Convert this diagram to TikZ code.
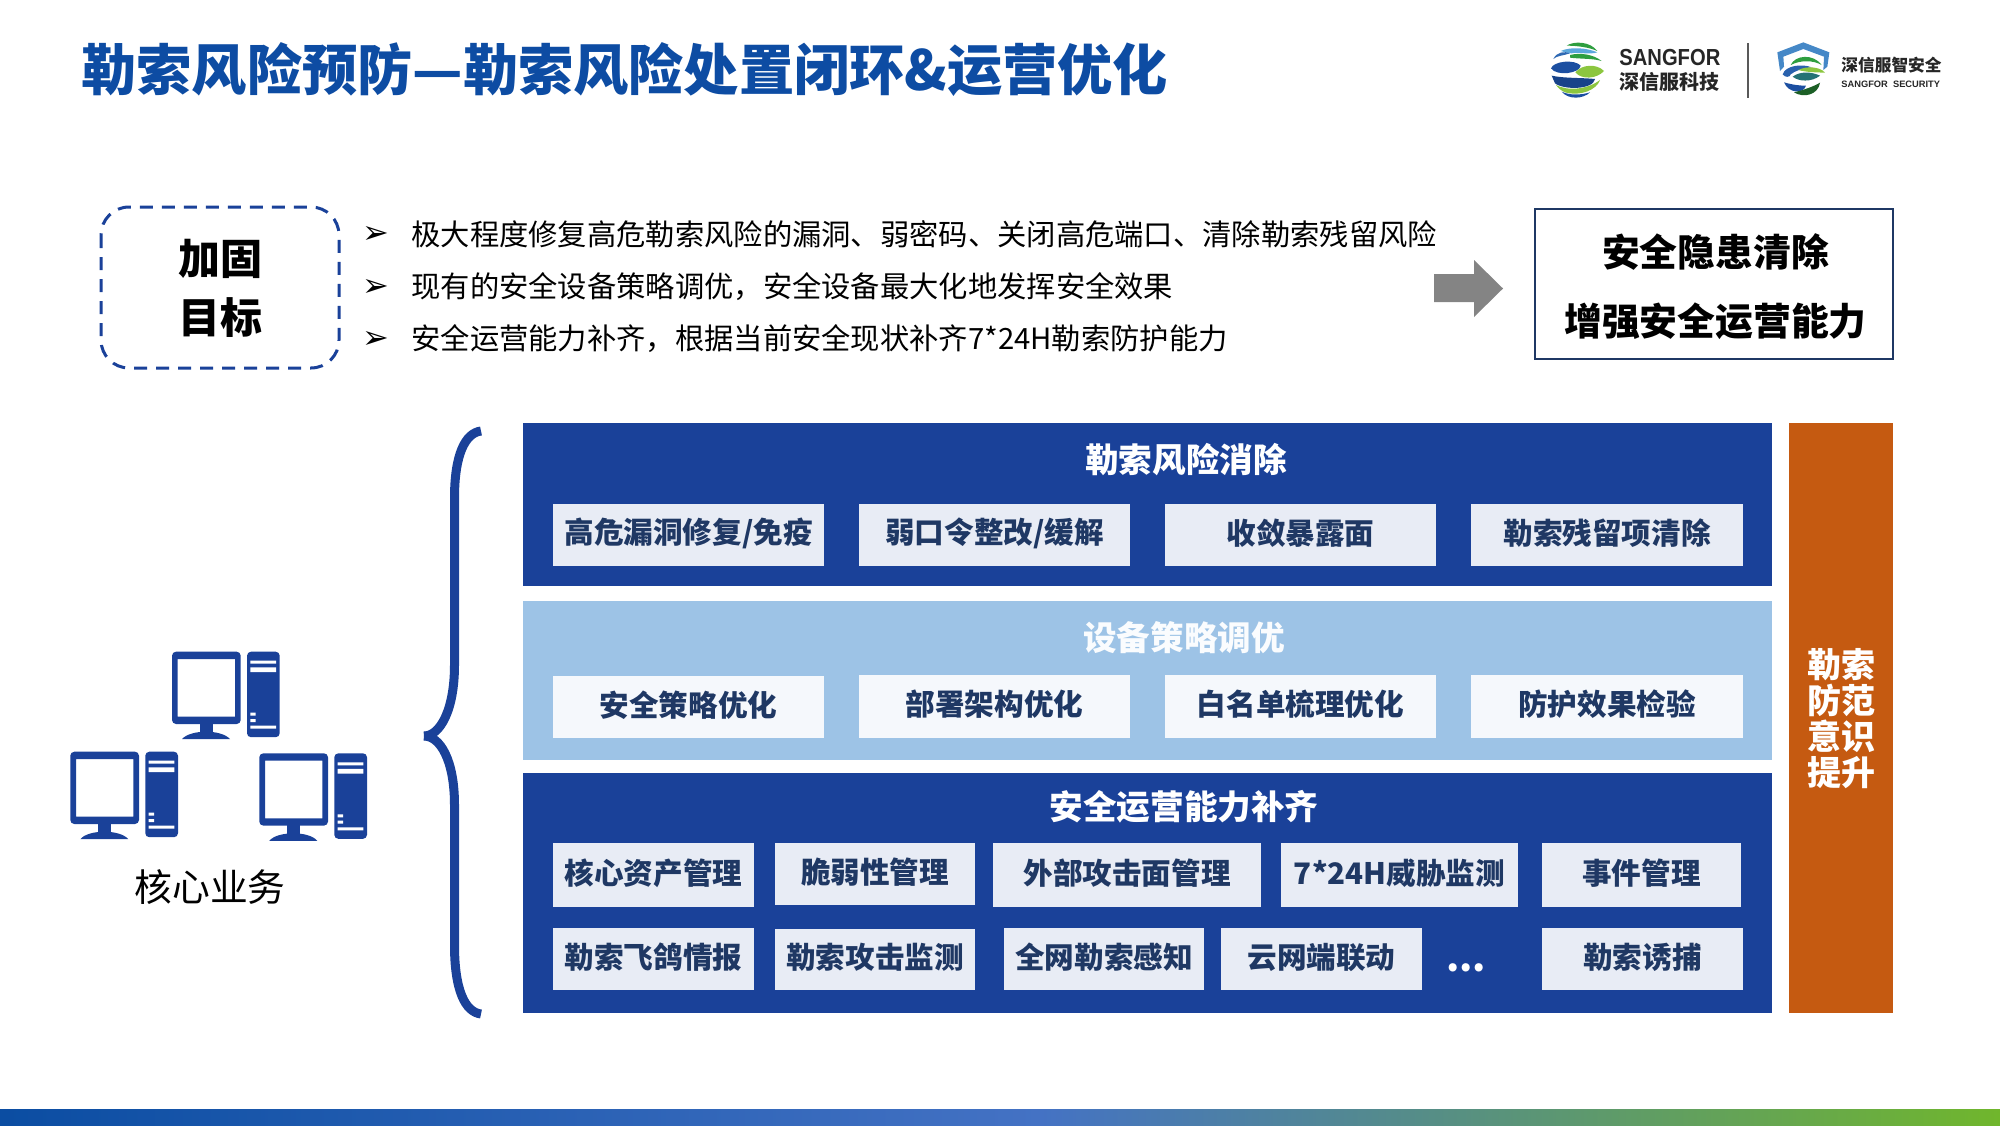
\documentclass[tikz,border=0pt]{standalone}
\usepackage{fontspec}
\setmainfont{Noto Sans CJK SC}
\newfontfamily\symfont{DejaVu Sans}
\newfontfamily\latfont[FakeStretch=0.87]{Liberation Sans}
\newfontfamily\latfontb{Liberation Sans}
\definecolor{navy}{HTML}{1A4199}
\definecolor{sky}{HTML}{9DC3E6}
\definecolor{orangebar}{HTML}{C55A11}
\definecolor{chipa}{HTML}{E8ECF5}
\definecolor{chipb}{HTML}{F5F8FC}
\definecolor{chiptx}{HTML}{1F3864}
\definecolor{titleblue}{HTML}{0D4CA3}
\definecolor{bandl}{HTML}{0B4DA2}
\definecolor{bandm}{HTML}{4472C4}
\definecolor{bandr}{HTML}{70B62C}
\definecolor{arrowgray}{HTML}{848484}
\definecolor{gA}{HTML}{2E9E3F}
\definecolor{gB}{HTML}{8CC63F}
\definecolor{bA}{HTML}{1C4FA1}
\definecolor{bB}{HTML}{5BA7DC}
\tikzset{
 chiptext/.style={inner sep=0pt,text=chiptx,font=\fontsize{14.8}{17}\bfseries\selectfont,yshift=1pt},
 paneltitle/.style={inner sep=0pt,font=\fontsize{16.8}{20}\bfseries\selectfont},
 goaltext/.style={inner sep=0pt,anchor=west,text=black,font=\fontsize{14.65}{18}\selectfont},
 bullet/.style={inner sep=0pt,text=black,font=\symfont\fontsize{16}{18}\selectfont},
 resulttext/.style={inner sep=0pt,text=black,font=\fontsize{18.9}{22}\bfseries\selectfont},
 pc/.pic={
  \fill[navy,rounded corners=2pt,even odd rule] (0,0) rectangle (68.7,72.3) [sharp corners] (5.7,7.3) rectangle (63,65);
  \fill[navy] (27.7,72) rectangle (41,81);
  \fill[navy] (10,87.5) .. controls (18,77.5) and (50,77.5) .. (58,87.5) -- cycle;
  \fill[navy,rounded corners=2pt] (75,0) rectangle (107.7,85.5);
  \fill[white] (78.3,9) rectangle (104,12) (78.3,15.6) rectangle (104,20.3)
   (78.3,61) rectangle (83.7,64) (78.3,67.3) rectangle (83.7,70.3) (78.3,74) rectangle (104,77);
 }
}
\newcommand{\chipbox}[7]{\fill[#7] (#2,#3) rectangle (#4,#5); \node[chiptext] (#1) at ({(#2+#4)/2},{(#3+#5)/2}) {#6};}
\begin{document}
\begin{tikzpicture}[x=0.5pt,y=-0.5pt]
\useasboundingbox (0,0) rectangle (2000,1125);
% title
\node[inner sep=0pt,anchor=west,text=titleblue,font=\fontsize{27.6}{32}\bfseries\selectfont] (title) at (81,70) {勒索风险预防—勒索风险处置闭环\&运营优化};
% globe logo
\begin{scope}[shift={(1540,35)},x=0.16667pt,y=-0.16667pt]
 \fill[gA] (80,32) .. controls (100,18) and (150,18) .. (172,48) .. controls (150,38) and (115,32) .. (80,32) -- cycle;
 \fill[bB] (62,48) .. controls (90,35) and (140,38) .. (172,52) .. controls (150,60) and (110,50) .. (95,55) .. controls (85,55) and (70,50) .. (62,48) -- cycle;
 \fill[gA] (90,60) .. controls (120,52) and (160,58) .. (185,78) .. controls (160,70) and (120,72) .. (90,68) -- cycle;
 \fill[bA!70!bB] (40,72) .. controls (50,50) and (75,48) .. (90,55) .. controls (70,62) and (50,62) .. (40,72) -- cycle;
 \fill[bA] (33,100) .. controls (40,78) and (105,72) .. (122,92) .. controls (120,115) and (50,125) .. (33,100) -- cycle;
 \fill[gB] (192,108) .. controls (170,85) and (125,88) .. (106,112) .. controls (125,135) and (170,132) .. (192,108) -- cycle;
 \fill[bA!85!black] (35,122) .. controls (70,130) and (130,128) .. (165,132) .. controls (160,165) and (70,165) .. (45,145) -- cycle;
 \fill[gB] (48,150) .. controls (80,168) and (140,165) .. (180,135) .. controls (170,165) and (120,185) .. (75,172) .. controls (65,168) and (55,160) .. (48,150) -- cycle;
 \fill[bA] (65,170) .. controls (90,182) and (125,180) .. (150,172) .. controls (130,192) and (85,195) .. (65,170) -- cycle;
\end{scope}
\node[inner sep=0pt,anchor=west,text=black!85,font=\latfont\fontsize{11.6}{13}\bfseries\selectfont] (sangfor) at (1619,58) {SANGFOR};
\node[inner sep=0pt,anchor=west,text=black!85,font=\fontsize{10}{12}\bfseries\selectfont] (sxf) at (1619,82) {深信服科技};
\fill[black!65] (1747,43) rectangle (1749,98);
% shield logo
\begin{scope}[shift={(1770,35)},x=0.16667pt,y=-0.16667pt]
 \fill[bB!65!bA] (22,52) -- (100,22) -- (178,52) -- (172,95) -- (160,105) -- (162,65) -- (100,42) -- (40,65) -- (42,95) -- (30,108) -- cycle;
 \fill[gA] (62,90) .. controls (75,60) and (130,55) .. (155,90) .. controls (130,75) and (90,75) .. (62,90) -- cycle;
 \fill[bA!80!bB] (38,118) .. controls (45,92) and (95,85) .. (125,97) .. controls (95,100) and (75,108) .. (62,118) .. controls (60,128) and (45,128) .. (38,118) -- cycle;
 \fill[gB] (165,113) .. controls (150,95) and (110,92) .. (85,105) .. controls (110,112) and (140,112) .. (165,113) -- cycle;
 \fill[gA!45!bA] (68,125) .. controls (90,108) and (125,110) .. (150,122) .. controls (125,142) and (85,140) .. (68,125) -- cycle;
 \fill[bA] (42,142) .. controls (70,150) and (90,152) .. (108,152) .. controls (100,178) and (55,175) .. (42,142) -- cycle;
 \fill[gA!60!black] (72,172) .. controls (100,165) and (130,155) .. (150,143) .. controls (145,180) and (100,190) .. (72,172) -- cycle;
\end{scope}
\node[inner sep=0pt,anchor=west,text=black!85,font=\fontsize{8.35}{10}\bfseries\selectfont] (zhian) at (1841,65) {深信服智安全};
\node[inner sep=0pt,anchor=west,text=black!85,font=\latfontb\fontsize{4.65}{6}\bfseries\selectfont] (sec) at (1841,84) {SANGFOR\ \ SECURITY};
% goal
\draw[navy,line width=1.5pt,dash pattern=on 6.5pt off 4.5pt,rounded corners=14pt] (101,207) rectangle (339,368);
\node[inner sep=0pt,align=center,text=black,font=\fontsize{21}{29.5}\bfseries\selectfont] (goal) at (220,288) {加固\\目标};
\node[bullet] (b1) at (376,235) {➢};
\node[bullet] (b2) at (376,288) {➢};
\node[bullet] (b3) at (376,340) {➢};
\node[goaltext] (g1) at (411,234) {极大程度修复高危勒索风险的漏洞、弱密码、关闭高危端口、清除勒索残留风险};
\node[goaltext] (g2) at (411,287) {现有的安全设备策略调优，安全设备最大化地发挥安全效果};
\node[goaltext] (g3) at (411,339) {安全运营能力补齐，根据当前安全现状补齐7*24H勒索防护能力};
% arrow
\fill[arrowgray] (1434,274) -- (1474,274) -- (1474,260) -- (1503,288.5) -- (1474,317) -- (1474,302) -- (1434,302) -- cycle;
% result
\draw[chiptx,line width=1pt] (1535,209) rectangle (1893,359);
\node[resulttext] (r1) at (1715.5,252) {安全隐患清除};
\node[resulttext] (r2) at (1715.5,321) {增强安全运营能力};
% brace
\draw[navy,line width=4.5pt] (481,431) .. controls (465,433) and (454.5,455) .. (454.5,498) -- (454.5,665) .. controls (454.5,710) and (440,736) .. (424,736);
\draw[navy,line width=4.5pt] (424,736) .. controls (440,736) and (454.5,760) .. (454.5,805) -- (454.5,945) .. controls (454.5,990) and (465,1012) .. (481,1014);
% computers
\pic at (172,651.7) {pc};
\pic at (70.3,751.7) {pc};
\pic at (259.3,753.3) {pc};
\node[inner sep=0pt,text=black,font=\fontsize{18.9}{22}\selectfont] (core) at (210,887) {核心业务};
% panels
\fill[navy] (523,423) rectangle (1772,586);
\fill[sky] (523,601) rectangle (1772,760);
\fill[navy] (523,773) rectangle (1772,1013);
\fill[orangebar] (1789,423) rectangle (1893,1013);
\node[paneltitle,text=white] (p1) at (1186,460) {勒索风险消除};
\node[paneltitle,text=white!95!sky] (p2) at (1184,638) {设备策略调优};
\node[paneltitle,text=white] (p3) at (1184,807) {安全运营能力补齐};
\node[inner sep=0pt,align=center,text=white,font=\fontsize{17}{18}\bfseries\selectfont] (aware) at (1841.5,719) {勒索\\防范\\意识\\提升};
% chips
\chipbox{a1}{553}{504}{824}{566}{高危漏洞修复/免疫}{chipa}
\chipbox{a2}{859}{504}{1130}{566}{弱口令整改/缓解}{chipa}
\chipbox{a3}{1165}{504}{1436}{566}{收敛暴露面}{chipa}
\chipbox{a4}{1471}{504}{1743}{566}{勒索残留项清除}{chipa}
\chipbox{b1x}{553}{676}{824}{738}{安全策略优化}{chipb}
\chipbox{b2x}{859}{675}{1130}{738}{部署架构优化}{chipb}
\chipbox{b3x}{1165}{675}{1436}{738}{白名单梳理优化}{chipb}
\chipbox{b4x}{1471}{675}{1743}{738}{防护效果检验}{chipb}
\chipbox{c1}{553}{843}{754}{907}{核心资产管理}{chipa}
\chipbox{c2}{775}{843}{975}{905}{脆弱性管理}{chipa}
\chipbox{c3}{993}{843}{1261}{907}{外部攻击面管理}{chipa}
\chipbox{c4}{1281}{843}{1518}{907}{7*24H威胁监测}{chipa}
\chipbox{c5}{1542}{843}{1741}{907}{事件管理}{chipa}
\chipbox{d1}{553}{928}{754}{990}{勒索飞鸽情报}{chipa}
\chipbox{d2}{775}{929}{975}{990}{勒索攻击监测}{chipa}
\chipbox{d3}{1004}{928}{1204}{990}{全网勒索感知}{chipa}
\chipbox{d4}{1221}{928}{1422}{990}{云网端联动}{chipa}
\chipbox{d5}{1542}{928}{1743}{990}{勒索诱捕}{chipa}
\node[inner sep=0pt,text=white,font=\fontsize{19}{22}\bfseries\selectfont] (dots) at (1466,968) {...};
% band
\shade[left color=bandl,right color=bandm] (0,1109) rectangle (1040,1125);
\shade[left color=bandm,right color=bandr] (1040,1109) rectangle (2000,1125);
\end{tikzpicture}
\end{document}
